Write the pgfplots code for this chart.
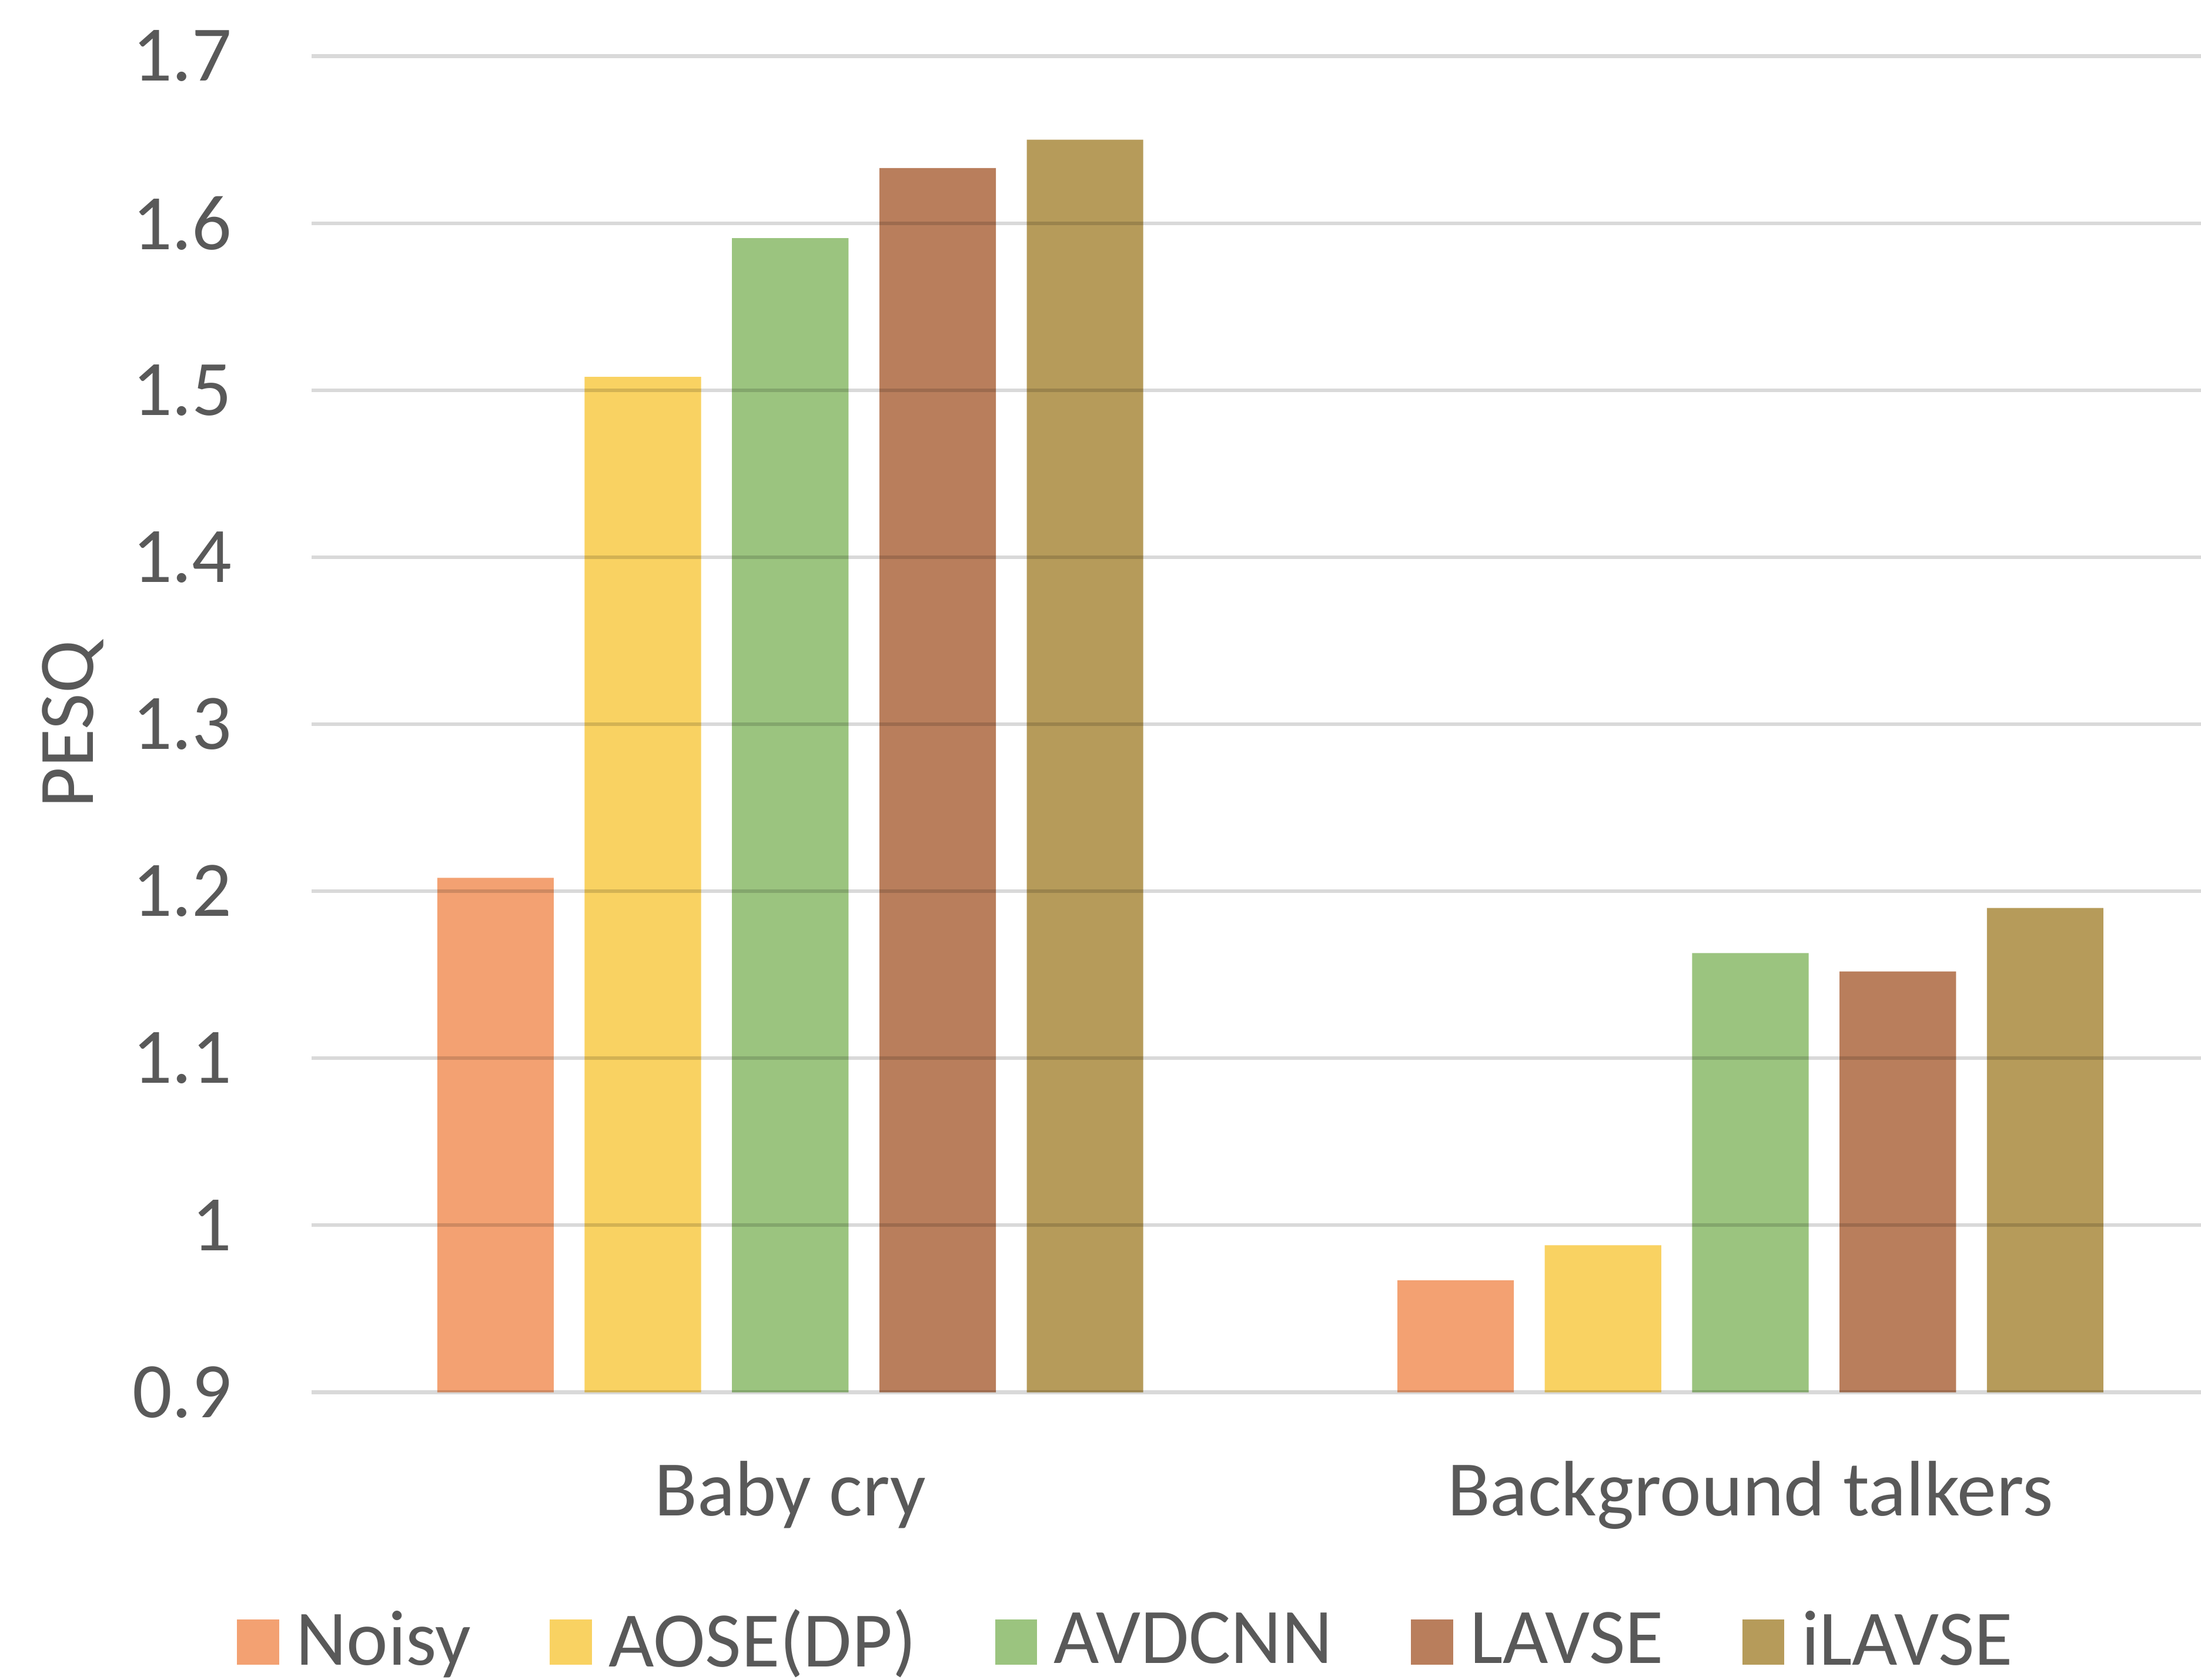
\documentclass[border=0pt]{standalone}
\usepackage{pgfplots}
\usepackage{pgfplotstable}
\pgfplotsset{compat=1.18}
\usepackage{fontspec}
\setmainfont{Carlito}

\definecolor{txt}{HTML}{595959}
\definecolor{cNoisy}{HTML}{F3A172}
\definecolor{cAose}{HTML}{F9D262}
\definecolor{cAvd}{HTML}{9BC47F}
\definecolor{cLavse}{HTML}{B97E5C}
\definecolor{cIlavse}{HTML}{B69B5A}

% PESQ per noise type (0 = Baby cry, 1 = Background talkers)
\pgfplotstableread{
x noisy aose avdcnn lavse ilavse
0 1.208 1.508 1.591 1.633 1.650
1 0.967 0.988 1.163 1.152 1.190
}\pesq

\pgfplotsset{
  sq legend/.style={legend image code/.code={\fill[##1,draw=none] (0pt,-4pt) rectangle (7.5pt,4pt);}},
}

\begin{document}
\begin{tikzpicture}
\begin{axis}[
  name=ax,
  scale only axis, width=336.5pt, height=238pt,
  xmin=-0.4985, xmax=1.4693, ymin=0.9, ymax=1.7,
  axis line style={draw=none},
  major tick length=0pt,
  ytick={0.9,1,1.1,1.2,1.3,1.4,1.5,1.6,1.7},
  yticklabels={0.9,1,1.1,1.2,1.3,1.4,1.5,1.6,1.7},
  xtick={0,1}, xticklabels={Baby cry, Background talkers},
  ymajorgrids, grid style={black, opacity=0.15, line width=0.65pt},
  axis on top,
  ybar, bar width=0.1213,
  every tick label/.append style={font=\fontsize{14}{16}\selectfont, text=txt},
  yticklabel style={anchor=east, inner sep=0pt, xshift=-14pt},
  xticklabel style={anchor=base, inner sep=0pt, yshift=-22pt},
  ylabel={PESQ},
  ylabel style={at={(axis description cs:0,0.5)}, anchor=center, inner sep=0pt,
    yshift=42.5pt, font=\fontsize{14}{16}\selectfont, text=txt},
  legend columns=5,
  legend style={at={(-0.0401,-0.187)}, anchor=west, draw=none, fill=none,
    inner sep=0pt, font=\fontsize{14}{16}\selectfont, text=txt,
    nodes={inner sep=0pt},
    /tikz/every odd column/.append style={column sep=3pt},
    /tikz/every even column/.append style={column sep=14pt}},
]
\addplot[fill=cNoisy,  draw=none, bar shift=-0.307,  sq legend] table[x=x,y=noisy]{\pesq};
\addplot[fill=cAose,   draw=none, bar shift=-0.1535, sq legend] table[x=x,y=aose]{\pesq};
\addplot[fill=cAvd,    draw=none, bar shift=0,       sq legend] table[x=x,y=avdcnn]{\pesq};
\addplot[fill=cLavse,  draw=none, bar shift=0.1535,  sq legend] table[x=x,y=lavse]{\pesq};
\addplot[fill=cIlavse, draw=none, bar shift=0.307,   sq legend] table[x=x,y=ilavse]{\pesq};
\legend{Noisy, AOSE(DP), AVDCNN, LAVSE, iLAVSE}
\end{axis}
\pgfresetboundingbox
\path[use as bounding box] ([shift={(-55.5pt,-51.25pt)}]ax.south west) rectangle ([shift={(0pt,10pt)}]ax.north east);
\end{tikzpicture}
\end{document}
